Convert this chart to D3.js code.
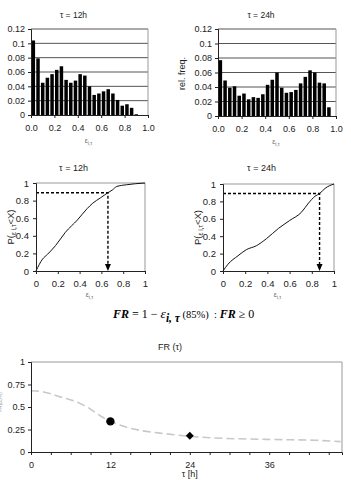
<!DOCTYPE html>
<html>
<head>
<meta charset="utf-8">
<script src="https://cdn.jsdelivr.net/npm/d3@7"></script>
<style>
  body { margin: 0; background: #fff; }
  text { font-family: "Liberation Sans", Arial, sans-serif; fill: #222; }
  .axis path, .axis line { stroke: #222; }
</style>
</head>
<body>
<svg id="chart" width="351" height="480"></svg>
<script>
// histogram bins (relative frequency, bins of 0.04)
const binWidth = 0.04;
const hist12 = [0.104, 0.079, 0.045, 0.052, 0.057, 0.063, 0.068, 0.049, 0.045, 0.048, 0.057, 0.055,
                0.040, 0.028, 0.030, 0.033, 0.036, 0.030, 0.021, 0.013, 0.015, 0.010, 0.001];
const hist24 = [0.077, 0.049, 0.039, 0.041, 0.028, 0.031, 0.023, 0.026, 0.025, 0.030, 0.043, 0.050,
                0.060, 0.039, 0.032, 0.033, 0.036, 0.045, 0.054, 0.063, 0.060, 0.046, 0.045, 0.012];
const freqTicks = [0, 0.02, 0.04, 0.06, 0.08, 0.1, 0.12];
const epsTicks = [0, 0.2, 0.4, 0.6, 0.8, 1];
const histTickLabels = ["0.0", "0.2", "0.4", "0.6", "0.8", "1.0"];
const probTicks = [0, 0.2, 0.4, 0.6, 0.8, 1];

// cumulative distributions
const cdf12X = [0, 0.06, 0.106, 0.18, 0.27, 0.38, 0.47, 0.52, 0.59, 0.66, 0.70, 0.74, 0.83, 1];
const cdf12Y = [0, 0.135, 0.19, 0.29, 0.44, 0.58, 0.71, 0.77, 0.83, 0.89, 0.92, 0.96, 0.98, 1];
const cdf24X = [0, 0.045, 0.135, 0.21, 0.30, 0.39, 0.50, 0.60, 0.71, 0.77, 0.83, 0.87, 0.92, 1];
const cdf24Y = [0, 0.078, 0.175, 0.245, 0.29, 0.37, 0.49, 0.58, 0.68, 0.78, 0.86, 0.89, 0.95, 1];
const cut12 = [0.66, 0.89];
const cut24 = [0.87, 0.89];

// FR(tau)
const frHours = [0, 1.9, 4.1, 7.4, 8.7, 10.5, 12, 14, 16.5, 19.5, 24, 28, 33, 38, 43, 46.8];
const frValues = [0.68, 0.667, 0.62, 0.54, 0.49, 0.40, 0.34, 0.285, 0.24, 0.21, 0.174, 0.155, 0.144, 0.137, 0.13, 0.115];
const frMarkHours = [12, 24];
const frMarkValues = [0.34, 0.18];
const frHourTicks = [0, 12, 24, 36];
const frValueTicks = [0, 0.25, 0.5, 0.75, 1];

const svg = d3.select("#chart");

function frame(g, x0, x1, y0, y1) {
    g.append("path")
        .attr("d", `M${x0},${y0}H${x1}V${y1}`)
        .attr("fill", "none").attr("stroke", "#999");
}

function histPanel(data, title, x0, x1, y0, y1) {
    const x = d3.scaleLinear([0, 1], [x0, x1]);
    const y = d3.scaleLinear([0, 0.12], [y1, y0]);
    const g = svg.append("g");

    g.selectAll(".grid").data(freqTicks.slice(1))
      .enter().append("line")
        .attr("x1", x0).attr("x2", x1)
        .attr("y1", d => y(d)).attr("y2", d => y(d))
        .attr("stroke", "#555");
    g.append("line").attr("x1", x1).attr("x2", x1).attr("y1", y0).attr("y2", y1).attr("stroke", "#999");

    const bw = x(binWidth) - x(0);
    g.selectAll(".bar").data(data)
      .enter().append("rect")
        .attr("x", (d, i) => x(i * binWidth) + 0.6)
        .attr("width", bw - 1.2)
        .attr("y", d => y(d))
        .attr("height", d => y(0) - y(d))
        .attr("fill", "#000");

    g.append("g").attr("class", "axis")
        .attr("transform", `translate(${x0},0)`)
        .call(d3.axisLeft(y).tickValues(freqTicks).tickSize(3).tickPadding(3)
            .tickFormat(d => d === 0 ? "0" : String(+d.toFixed(2))))
        .call(a => a.selectAll("text").style("font-size", "9px"));
    g.append("g").attr("class", "axis")
        .attr("transform", `translate(0,${y1})`)
        .call(d3.axisBottom(x).tickValues(epsTicks).tickSize(3).tickPadding(7)
            .tickFormat((d, i) => histTickLabels[i]))
        .call(a => a.selectAll("text").style("font-size", "9px"));
    g.selectAll(".domain").attr("stroke", "#222");

    g.append("text").attr("x", (x0 + x1) / 2 - 16).attr("y", 18)
        .attr("text-anchor", "middle").style("font-size", "8.5px").text(title);
    g.append("text")
        .attr("transform", `translate(${x0 - 33},${(y0 + y1) / 2 + 1}) rotate(-90)`)
        .attr("text-anchor", "middle").style("font-size", "9px").text("rel. freq.");
    const lab = g.append("text").attr("x", (x0 + x1) / 2 - 1).attr("y", y1 + 28)
        .attr("text-anchor", "middle").style("font-size", "7px").style("fill", "#666");
    lab.append("tspan").text("ε");
    lab.append("tspan").attr("dy", 2).style("font-size", "5px").text("i,τ");
}

function cdfPanel(xs, ys, cut, title, x0, x1, y0, y1) {
    const x = d3.scaleLinear([0, 1], [x0, x1]);
    const y = d3.scaleLinear([0, 1], [y1, y0]);
    const g = svg.append("g");
    frame(g, x0, x1, y0, y1);

    const line = d3.line().x(d => x(d[0])).y(d => y(d[1])).curve(d3.curveMonotoneX);
    g.append("path").datum(d3.zip(xs, ys))
        .attr("d", line).attr("fill", "none").attr("stroke", "#111").attr("stroke-width", 1);

    g.append("path")
        .attr("d", `M${x(0)},${y(cut[1])}H${x(cut[0])}V${y(0) - 5}`)
        .attr("fill", "none").attr("stroke", "#000")
        .attr("stroke-width", 1.4).attr("stroke-dasharray", "3,2");
    g.append("path")
        .attr("d", `M${x(cut[0]) - 3},${y(0) - 7}L${x(cut[0]) + 3},${y(0) - 7}L${x(cut[0])},${y(0)}Z`)
        .attr("fill", "#000");

    const fmt = d => d === 0 ? "0" : d === 1 ? "1" : d.toFixed(1);
    g.append("g").attr("class", "axis")
        .attr("transform", `translate(${x0},0)`)
        .call(d3.axisLeft(y).tickValues(probTicks).tickSize(3).tickPadding(4).tickFormat(fmt))
        .call(a => a.selectAll("text").style("font-size", "9.5px"));
    g.append("g").attr("class", "axis")
        .attr("transform", `translate(0,${y1})`)
        .call(d3.axisBottom(x).tickValues(epsTicks).tickSize(3).tickPadding(6).tickFormat(fmt))
        .call(a => a.selectAll("text").style("font-size", "9.5px"));

    g.append("text").attr("x", (x0 + x1) / 2 - 17).attr("y", 171)
        .attr("text-anchor", "middle").style("font-size", "9px").text(title);

    const yl = g.append("text")
        .attr("transform", `translate(${x0 - 22},${(y0 + y1) / 2}) rotate(-90)`)
        .attr("text-anchor", "middle").style("font-size", "9.5px");
    yl.append("tspan").text("P(");
    yl.append("tspan").attr("dy", 1.5).style("font-size", "6.5px").text("ε i,τ");
    yl.append("tspan").attr("dy", -1.5).text("<X)");

    const lab = g.append("text").attr("x", x(0.5) - 1).attr("y", y1 + 26)
        .attr("text-anchor", "middle").style("font-size", "7px").style("fill", "#666");
    lab.append("tspan").text("ε");
    lab.append("tspan").attr("dy", 1.5).style("font-size", "5px").text("i,τ");
}

histPanel(hist12, "τ = 12h", 31, 148, 29, 115);
histPanel(hist24, "τ = 24h", 218, 336, 29, 116);
cdfPanel(cdf12X, cdf12Y, cut12, "τ = 12h", 36, 145, 183, 271);
cdfPanel(cdf24X, cdf24Y, cut24, "τ = 24h", 223, 334, 184, 271);

// formula
const f = svg.append("text").attr("x", 113).attr("y", 318)
    .style("font-family", "'Liberation Serif', 'Times New Roman', serif")
    .style("font-size", "12px").style("fill", "#000");
f.append("tspan").style("font-style", "italic").style("font-weight", "bold").text("FR");
f.append("tspan").text(" = 1 − ");
f.append("tspan").style("font-style", "italic").style("font-size", "13.5px").text("ε");
f.append("tspan").attr("dy", 4).style("font-style", "italic").style("font-weight", "bold").style("font-size", "11.5px").text("i, τ");
f.append("tspan").attr("dy", -4).style("font-size", "10.5px").text(" (85%)");
f.append("tspan").style("font-size", "10.5px").text("\u00a0\u00a0: ");
f.append("tspan").style("font-style", "italic").style("font-weight", "bold").text("FR");
f.append("tspan").text(" ≥ 0");

// FR(tau) panel
{
    const x0 = 31, x1 = 342, y0 = 362, y1 = 452;
    const x = d3.scaleLinear([0, 47], [x0, x1]);
    const y = d3.scaleLinear([0, 1], [y1, y0]);
    const g = svg.append("g");
    frame(g, x0, x1, y0, y1);

    const line = d3.line().x(d => x(d[0])).y(d => y(d[1])).curve(d3.curveMonotoneX);
    g.append("path").datum(d3.zip(frHours, frValues))
        .attr("d", line).attr("fill", "none").attr("stroke", "#c8c8c8")
        .attr("stroke-width", 1.6).attr("stroke-dasharray", "8,4");

    g.append("circle").attr("cx", x(frMarkHours[0])).attr("cy", y(frMarkValues[0]))
        .attr("r", 4.2).attr("fill", "#000");
    g.append("path").attr("d", d3.symbol(d3.symbolDiamond2, 40)())
        .attr("transform", `translate(${x(frMarkHours[1])},${y(frMarkValues[1])})`)
        .attr("fill", "#000");

    g.append("g").attr("class", "axis")
        .attr("transform", `translate(${x0},0)`)
        .call(d3.axisLeft(y).tickValues(frValueTicks).tickSize(3).tickPadding(3)
            .tickFormat(d => String(d)))
        .call(a => a.selectAll("text").style("font-size", "9px"));
    g.append("g").attr("class", "axis")
        .attr("transform", `translate(0,${y1})`)
        .call(d3.axisBottom(x).tickValues(d3.range(0, 47, 3)).tickSize(3).tickPadding(7)
            .tickFormat(d => frHourTicks.includes(d) ? String(d) : ""))
        .call(a => a.selectAll("text").style("font-size", "9px"));

    g.append("text").attr("x", 170).attr("y", 350)
        .attr("text-anchor", "middle").style("font-size", "9px").text("FR (τ)");
    g.append("text").attr("x", x(24)).attr("y", 477)
        .attr("text-anchor", "middle").style("font-size", "9px").text("τ [h]");
    g.append("text")
        .attr("transform", `translate(2,${(y0 + y1) / 2 - 5}) rotate(-90)`)
        .attr("text-anchor", "middle").style("font-size", "5px").style("fill", "#999").text("FR(85%)");
}
</script>
</body>
</html>
